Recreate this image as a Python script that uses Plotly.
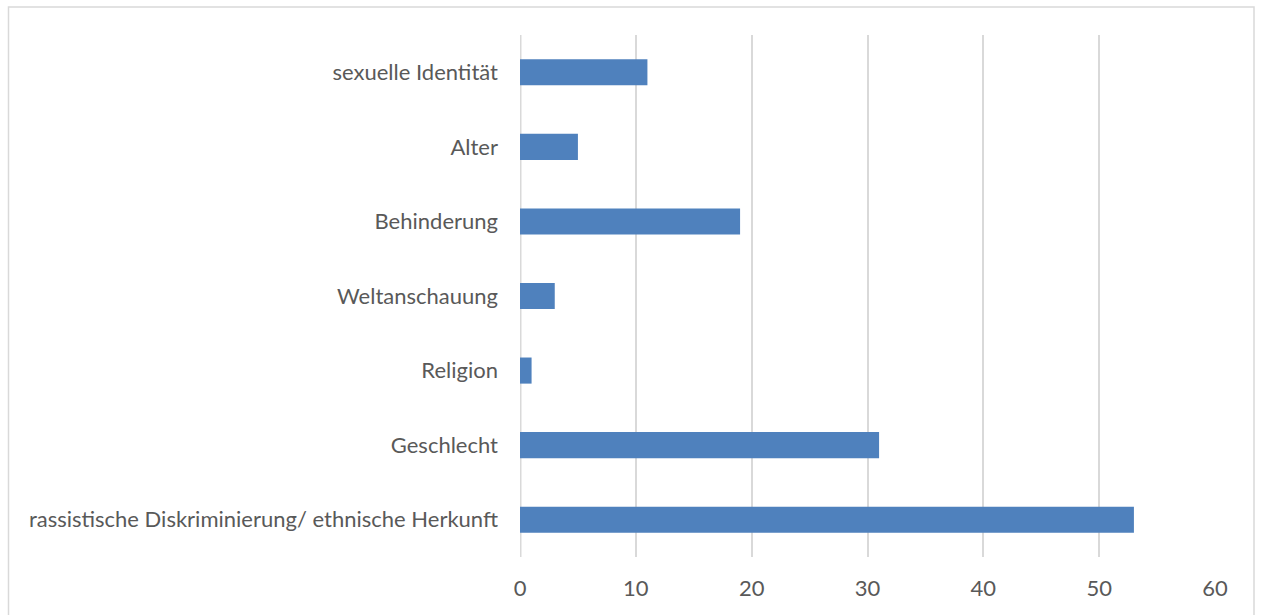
import plotly.graph_objects as go

categories = [
    "rassistische Diskriminierung/ ethnische Herkunft",
    "Geschlecht",
    "Religion",
    "Weltanschauung",
    "Behinderung",
    "Alter",
    "sexuelle Identität",
]
values = [53, 31, 1, 3, 19, 5, 11]
x_ticks = [0, 10, 20, 30, 40, 50, 60]

W, H = 1263, 615
L, R, T, B = 520, 1215, 35, 557

fig = go.Figure(go.Bar(
    x=values, y=categories, orientation="h",
    marker=dict(color="#4F81BD", line=dict(width=0)),
))

fig.update_layout(
    width=W, height=H,
    margin=dict(l=L, r=W - R, t=T, b=H - B, pad=0),
    paper_bgcolor="white", plot_bgcolor="white",
    bargap=0.65,
    showlegend=False,
    font=dict(family="Lato", size=22, color="#595959"),
    xaxis=dict(
        range=[0, 60], tickvals=x_ticks, showgrid=True,
        gridcolor="#D9D9D9", gridwidth=2, zeroline=False,
        showline=False, ticks="", ticklabelstandoff=16,
        tickfont=dict(size=22, color="#595959"),
    ),
    yaxis=dict(
        categoryorder="array", categoryarray=categories,
        showgrid=False, zeroline=False, showline=False, ticks="",
        ticklabelstandoff=21,
        tickfont=dict(size=22, color="#595959"),
    ),
    shapes=[
        dict(type="line", xref="x", yref="paper", x0=0, x1=0, y0=0, y1=1,
             line=dict(color="#D9D9D9", width=3), layer="below"),
        dict(type="rect", xref="paper", yref="paper",
             x0=(8.5 - L) / (R - L), x1=(1254 - L) / (R - L),
             y0=(B - 620) / (B - T), y1=(B - 7) / (B - T),
             line=dict(color="#D9D9D9", width=1.5), fillcolor="rgba(0,0,0,0)",
             layer="below"),
    ],
)

fig.write_html("out.html")
